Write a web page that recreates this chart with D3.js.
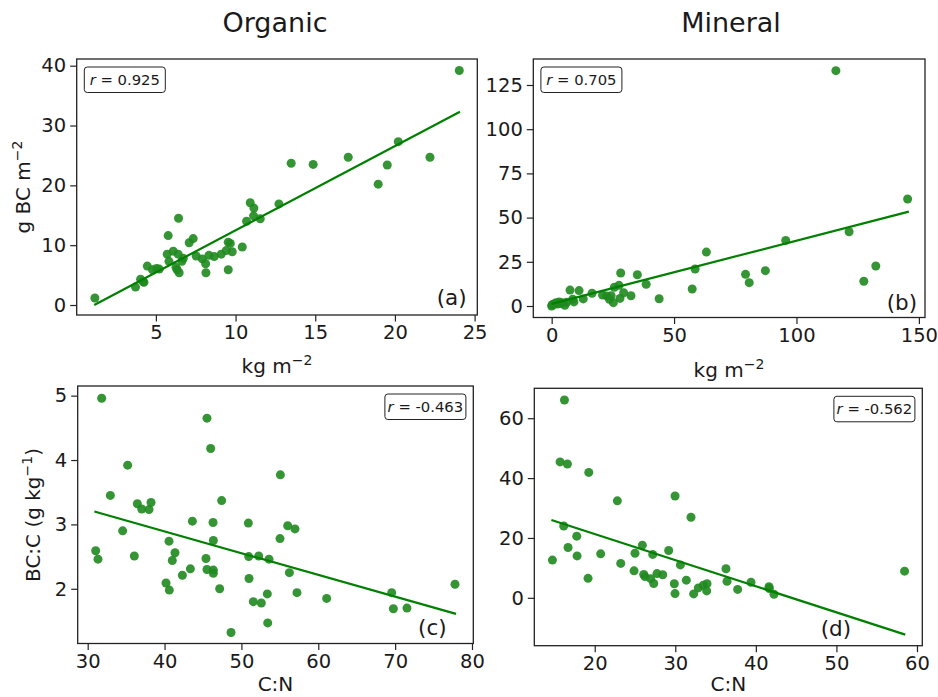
<!DOCTYPE html>
<html lang="en">
<head>
<meta charset="utf-8">
<title>BC scatter panels</title>
<script src="https://d3js.org/d3.v7.min.js"></script>
<style>
  body { margin: 0; background: #fff; }
  text { font-family: "DejaVu Sans", sans-serif; fill: #1a1a1a; }
</style>
</head>
<body>
<script>
// ---- data ----
// (a) Organic, stock (kg m-2) vs BC (g m-2)
var aX = [1.17, 3.72, 4.04, 4.25, 4.2, 4.46, 4.79, 5.04, 5.21, 5.77, 5.71, 5.82, 6.09, 6.26, 6.40, 6.42, 6.33, 6.46, 6.63, 6.72,
          7.09, 7.34, 7.53, 7.91, 8.12, 8.14, 8.33, 8.66, 9.10, 9.41, 9.54, 9.67, 9.79, 9.54, 10.42, 10.69, 10.92, 11.15, 11.13, 11.55,
          12.72, 13.49, 14.87, 17.07, 18.95, 19.52, 20.21, 22.20, 24.04];
var aY = [1.17, 3.0, 4.3, 3.8, 3.9, 6.5, 5.9, 6.1, 6.0, 11.6, 8.5, 7.3, 9.0, 6.3, 8.5, 14.5, 5.9, 5.4, 7.3, 7.8,
          10.4, 11.1, 8.2, 7.7, 6.9, 5.4, 8.3, 8.1, 8.5, 9.1, 10.5, 10.3, 8.9, 5.9, 9.7, 14.0, 17.1, 16.2, 14.9, 14.4,
          16.9, 23.7, 23.5, 24.7, 20.2, 23.4, 27.3, 24.7, 39.2];
var aFitX = [1.13, 24.08], aFitY = [0.0, 32.3];

// (b) Mineral, stock (kg m-2) vs BC (g m-2)
var bX = [0, 0.4, 1.8, 3.1, 2.3, 5.4, 6.1, 7.5, 8.6, 9.1, 11.2, 12.9, 16.5, 20.8, 22.5, 23.6, 25.2, 24.3, 25.6, 27.5,
          28.2, 27.9, 29.4, 32.4, 35.0, 38.6, 43.9, 57.4, 58.6, 63.2, 79.2, 80.7, 87.3, 95.6, 116.1, 121.5, 127.5, 132.4, 145.4,
          1.0, 4.1, 0.2, 3.6];
var bY = [0, 0.8, 1.9, 2.3, 1.1, 0.4, 2.1, 9.0, 3.8, 2.3, 8.7, 4.0, 7.2, 6.2, 5.7, 3.8, 1.9, 5.8, 10.6, 11.7,
          18.7, 4.3, 7.5, 5.8, 17.7, 12.3, 4.1, 9.6, 20.9, 30.5, 17.9, 13.2, 20.0, 37.1, 133.1, 42.0, 14.0, 22.6, 60.5,
          1.1, 1.9, 0.6, 1.4];
var bFitX = [0, 145.9], bFitY = [1.2, 53.4];

// (c) Organic, C:N vs BC:C (g kg-1)
var cX = [31.82, 31.04, 31.34, 32.95, 34.55, 35.20, 36.07, 36.46, 37.03, 37.98, 38.24, 40.19, 40.58, 40.62, 41.01, 41.36, 42.32,
          43.36, 43.62, 45.39, 45.52, 45.52, 46.00, 46.31, 46.35, 46.35, 46.35, 47.17, 47.43, 48.65, 50.90, 50.95, 50.99, 51.55,
          52.25, 52.59, 53.37, 53.42, 53.59, 55.02, 55.07, 56.02, 56.24, 56.97, 57.23, 61.09, 69.55, 69.77, 71.54, 77.79];
var cY = [4.96, 2.59, 2.46, 3.45, 2.90, 3.92, 2.51, 3.32, 3.24, 3.23, 3.34, 2.09, 2.74, 1.98, 2.44, 2.56, 2.21,
          2.31, 3.05, 2.47, 4.65, 2.30, 4.18, 3.03, 2.75, 2.29, 2.24, 2.00, 3.37, 1.32, 3.02, 2.50, 2.16, 1.80,
          2.51, 1.78, 1.92, 1.47, 2.46, 2.78, 3.77, 2.98, 2.25, 2.93, 1.94, 1.85, 1.94, 1.69, 1.70, 2.07];
var cFitX = [30.87, 77.92], cFitY = [3.20, 1.61];

// (d) Mineral, C:N vs BC:C (g kg-1)
var dX = [14.75, 15.70, 16.24, 16.15, 16.61, 16.69, 17.77, 17.81, 19.17, 19.26, 20.74, 22.81, 23.23, 24.88, 25.00, 25.91,
          26.08, 26.24, 26.95, 27.20, 27.32, 27.73, 28.44, 29.18, 29.88, 29.97, 29.97, 30.63, 31.37, 31.95, 32.28, 32.86,
          33.48, 33.94, 33.90, 36.29, 36.42, 37.74, 39.40, 41.63, 41.67, 42.25, 58.46];
var dY = [12.6, 45.4, 66.1, 24.0, 44.7, 16.8, 20.6, 14.0, 6.5, 41.9, 14.7, 32.4, 11.5, 9.0, 14.9, 17.6,
          7.8, 7.1, 6.4, 14.5, 4.8, 8.1, 7.7, 15.8, 4.7, 34.0, 1.4, 11.0, 5.9, 26.9, 1.3, 3.3,
          4.2, 4.7, 2.3, 9.7, 5.5, 2.8, 5.2, 3.7, 3.1, 1.2, 8.9];
var dFitX = [14.62, 58.54], dFitY = [26.0, -12.3];

var rLabels = ["0.925", "0.705", "-0.463", "-0.562"];
var panelTags = ["(a)", "(b)", "(c)", "(d)"];
var columnTitles = ["Organic", "Mineral"];

var aTicksX = [5, 10, 15, 20, 25], aTicksY = [0, 10, 20, 30, 40];
var bTicksX = [0, 50, 100, 150], bTicksY = [0, 25, 50, 75, 100, 125];
var cTicksX = [30, 40, 50, 60, 70, 80], cTicksY = [2, 3, 4, 5];
var dTicksX = [20, 30, 40, 50, 60], dTicksY = [0, 20, 40, 60];

// ---- drawing ----
var w = 938, h = 697;
var pointColor = "#1f8a1f", lineColor = "#008000";
var svg = d3.select("body").append("svg").attr("width", w).attr("height", h);

var panels = [
  { xs: aX, ys: aY, fx: aFitX, fy: aFitY, tx: aTicksX, ty: aTicksY,
    box: [76.7, 59, 477.3, 315], xd: [0.03, 25.17], yd: [-1.67, 41.12],
    rbox: "left", tag: [436.7, 305] },
  { xs: bX, ys: bY, fx: bFitX, fy: bFitY, tx: bTicksX, ty: bTicksY,
    box: [533.3, 59, 925, 317.5], xd: [-7.5, 152.5], yd: [-6.5, 139.7],
    rbox: "left", tag: [886.7, 310] },
  { xs: cX, ys: cY, fx: cFitX, fy: cFitY, tx: cTicksX, ty: cTicksY,
    box: [77.7, 386, 473.3, 643.5], xd: [28.7, 80.17], yd: [1.15, 5.15],
    rbox: "right", tag: [418, 635] },
  { xs: dX, ys: dY, fx: dFitX, fy: dFitY, tx: dTicksX, ty: dTicksY,
    box: [534.3, 388.3, 922.3, 645.7], xd: [12.5, 60.66], yd: [-16.0, 70.0],
    rbox: "right", tag: [820.7, 636] }
];

panels.forEach(function (p, i) {
  var x = d3.scaleLinear().domain(p.xd).range([p.box[0], p.box[2]]);
  var y = d3.scaleLinear().domain(p.yd).range([p.box[3], p.box[1]]);
  var g = svg.append("g");

  var clipId = "clip" + i;
  g.append("clipPath").attr("id", clipId).append("rect")
    .attr("x", p.box[0]).attr("y", p.box[1])
    .attr("width", p.box[2] - p.box[0]).attr("height", p.box[3] - p.box[1]);

  var pts = p.xs.map(function (v, k) { return [v, p.ys[k]]; });
  g.append("g").attr("clip-path", "url(#" + clipId + ")")
    .selectAll("circle").data(pts).enter().append("circle")
    .attr("cx", function (d) { return x(d[0]); })
    .attr("cy", function (d) { return y(d[1]); })
    .attr("r", 4.5)
    .style("fill", pointColor).style("fill-opacity", 0.9);

  var fit = p.fx.map(function (v, k) { return [v, p.fy[k]]; });
  g.append("path").datum(fit)
    .attr("d", d3.line().x(function (d) { return x(d[0]); }).y(function (d) { return y(d[1]); }))
    .style("fill", "none").style("stroke", lineColor).style("stroke-width", 2.2);

  var xAxis = g.append("g").attr("transform", "translate(0," + p.box[3] + ")")
    .call(d3.axisBottom(x).tickValues(p.tx).tickFormat(d3.format("d"))
      .tickSize(6.5).tickPadding(4).tickSizeOuter(0));
  var yAxis = g.append("g").attr("transform", "translate(" + p.box[0] + ",0)")
    .call(d3.axisLeft(y).tickValues(p.ty).tickFormat(d3.format("d"))
      .tickSize(6.5).tickPadding(4).tickSizeOuter(0));
  [xAxis, yAxis].forEach(function (ax) {
    ax.select(".domain").remove();
    ax.selectAll("line").style("stroke", "#222").style("stroke-width", 1.2);
    ax.selectAll("text").style("font-size", "19.5px").style("font-family", "DejaVu Sans").style("fill", "#1a1a1a");
  });

  g.append("rect")
    .attr("x", p.box[0]).attr("y", p.box[1])
    .attr("width", p.box[2] - p.box[0]).attr("height", p.box[3] - p.box[1])
    .style("fill", "none").style("stroke", "#222").style("stroke-width", 1.3);

  // r label box
  var bw = 81, bh = 25.5;
  var bx = p.rbox == "left" ? p.box[0] + 7.6 : p.box[2] - 7.4 - bw;
  var by = p.box[1] + 8;
  g.append("rect").attr("x", bx).attr("y", by).attr("width", bw).attr("height", bh)
    .attr("rx", 3).style("fill", "#fff").style("stroke", "#222").style("stroke-width", 1);
  var rt = g.append("text").attr("x", bx + bw / 2).attr("y", by + bh / 2 + 5.3)
    .attr("text-anchor", "middle").style("font-size", "14.8px");
  rt.append("tspan").style("font-style", "italic").text("r");
  rt.append("tspan").text(" = " + rLabels[i]);

  g.append("text").attr("x", p.tag[0]).attr("y", p.tag[1])
    .style("font-size", "21.5px").text(panelTags[i]);
});

// column titles
svg.append("text").attr("x", 275).attr("y", 32).attr("text-anchor", "middle")
  .style("font-size", "27px").text(columnTitles[0]);
svg.append("text").attr("x", 731).attr("y", 32).attr("text-anchor", "middle")
  .style("font-size", "27px").text(columnTitles[1]);

// axis labels with superscripts
function kgLabel(cx, cy) {
  var t = svg.append("text").attr("x", cx).attr("y", cy).attr("text-anchor", "middle").style("font-size", "20px");
  t.append("tspan").text("kg m");
  t.append("tspan").attr("dy", -8).style("font-size", "14px").text("\u22122");
}
kgLabel(277, 373);
kgLabel(729, 377);

svg.append("text").attr("x", 275.5).attr("y", 691).attr("text-anchor", "middle").style("font-size", "20px").text("C:N");
svg.append("text").attr("x", 728.3).attr("y", 691).attr("text-anchor", "middle").style("font-size", "20px").text("C:N");

var yl1 = svg.append("text").attr("transform", "translate(30,187) rotate(-90)")
  .attr("text-anchor", "middle").style("font-size", "20px");
yl1.append("tspan").text("g BC m");
yl1.append("tspan").attr("dy", -8).style("font-size", "14px").text("\u22122");

var yl2 = svg.append("text").attr("transform", "translate(40,515) rotate(-90)")
  .attr("text-anchor", "middle").style("font-size", "20px");
yl2.append("tspan").text("BC:C (g kg");
yl2.append("tspan").attr("dy", -8).style("font-size", "14px").text("\u22121");
yl2.append("tspan").attr("dy", 8).text(")");
</script>
</body>
</html>
